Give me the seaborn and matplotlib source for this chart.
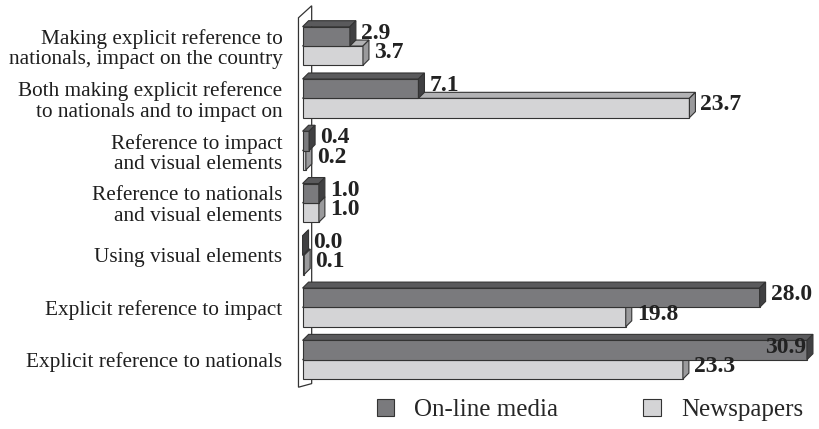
import pandas as pd
import matplotlib.pyplot as plt
import seaborn as sns
from matplotlib.patches import Polygon, Patch

# Values (percent)
categories = [
    "Making explicit reference to\nnationals, impact on the country",
    "Both making explicit reference\nto nationals and to impact on",
    "Reference to impact\nand visual elements",
    "Reference to nationals\nand visual elements",
    "Using visual elements",
    "Explicit reference to impact",
    "Explicit reference to nationals",
]
online_media = [2.9, 7.1, 0.4, 1.0, 0.0, 28.0, 30.9]
newspapers = [3.7, 23.7, 0.2, 1.0, 0.1, 19.8, 23.3]
series_names = ["On-line media", "Newspapers"]

df = pd.DataFrame({
    "category": categories * 2,
    "value": online_media + newspapers,
    "series": [series_names[0]] * len(categories) + [series_names[1]] * len(categories),
})

sns.set_style("white")
plt.rcParams["font.family"] = ["Liberation Serif", "DejaVu Serif"]

front = {series_names[0]: "#7a7a7d", series_names[1]: "#d4d4d6"}
top_c = {series_names[0]: "#5a5a5c", series_names[1]: "#b2b2b4"}
side_c = {series_names[0]: "#404042", series_names[1]: "#9a9a9c"}

fig = plt.figure(figsize=(8.2, 4.29), dpi=100)
ax = fig.add_axes([0.363, 0.103, 0.637, 0.864])

sns.barplot(data=df, y="category", x="value", hue="series", orient="h",
            palette=front, width=0.74, edgecolor="#333333", linewidth=0.8,
            legend=False, ax=ax)

ax.set_xlim(-0.3, 31.7)
ax.set_ylim(6.48, -0.61)
for s in ax.spines.values():
    s.set_visible(False)
ax.set_xticks([])
ax.set_xlabel("")
ax.set_ylabel("")
ax.tick_params(axis="y", length=0, pad=11, labelsize=15.3, labelcolor="#1e1e1e")
for lab in ax.get_yticklabels():
    lab.set_linespacing(1.1)

# depth of the 3D effect: 6 px right, 6 px up, in data units
fig.canvas.draw()
inv = ax.transData.inverted()
p0 = inv.transform(ax.transData.transform((0, 0)))
p1 = inv.transform(ax.transData.transform((0, 0)) + [6, 6])
dx, dy = p1[0] - p0[0], p1[1] - p0[1]

# seaborn draws all on-line bars first, then newspapers
bars = list(ax.patches)
n = len(categories)
vals = online_media + newspapers
for i, bar in enumerate(bars):
    name = series_names[0] if i < n else series_names[1]
    val = vals[i]
    y0 = bar.get_y()
    y1 = y0 + bar.get_height()
    ytop = min(y0, y1)
    ybot = max(y0, y1)
    z = 2 if i >= n else 3
    bar.set_zorder(z)
    topf = Polygon([(0, ytop), (val, ytop), (val + dx, ytop + dy), (dx, ytop + dy)],
                   closed=True, facecolor=top_c[name], edgecolor="#333333", lw=0.8, zorder=z)
    sidef = Polygon([(val, ytop), (val, ybot), (val + dx, ybot + dy), (val + dx, ytop + dy)],
                    closed=True, facecolor=side_c[name], edgecolor="#333333", lw=0.8, zorder=z)
    ax.add_patch(topf)
    ax.add_patch(sidef)
    yc = (ytop + ybot) / 2
    if name == series_names[0] and val > 30:
        ax.text(val - 0.05, yc + dy / 2, f"{val:.1f}", ha="right", va="center",
                fontsize=17, fontweight="bold", color="#222222", zorder=5)
    else:
        ax.text(val + dx + 0.3, yc + dy / 2, f"{val:.1f}", ha="left", va="center",
                fontsize=17, fontweight="bold", color="#222222", zorder=5)

# side wall
y_lo, y_hi = ax.get_ylim()
wx = -0.25
wall = [(wx, y_lo - dy * 0.4), (wx, y_hi - dy * 0.6), (wx + 2.2 * dx, y_hi + 1.4 * dy),
        (wx + 2.2 * dx, y_lo + 0.2 * dy)]
ax.add_patch(Polygon(wall, closed=True, fill=False, edgecolor="#333333", lw=0.9,
                     zorder=1, clip_on=False))

handles = [Patch(facecolor=front[s], edgecolor="#333333", lw=0.8) for s in series_names]
fig.legend(handles, series_names, loc="center", bbox_to_anchor=(590 / 820, 1 - 410 / 429),
           ncol=2, frameon=False, fontsize=18, handlelength=0.7, handleheight=0.7,
           columnspacing=3.4, handletextpad=0.8)

fig.savefig("out.png", dpi=100)
